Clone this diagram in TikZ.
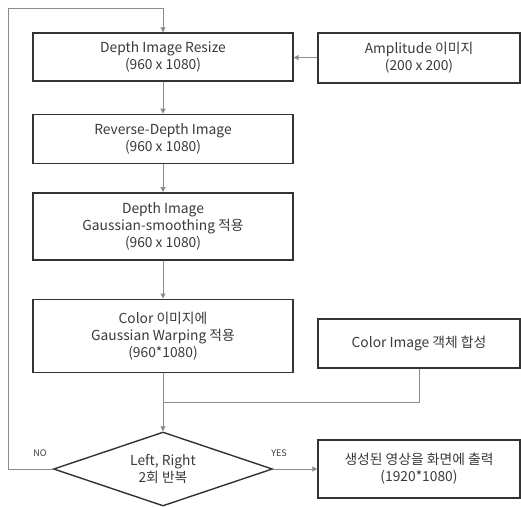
\documentclass[tikz,border=0pt]{standalone}
\usepackage{fontspec}
\setmainfont{Noto Sans CJK KR}
\usetikzlibrary{shapes.geometric, arrows.meta, positioning}
\definecolor{boxstr}{HTML}{333333}
\definecolor{linestr}{HTML}{8C8C8C}
\definecolor{txt}{HTML}{3A3A3A}
\tikzset{
  procbox/.style ={rectangle, draw=boxstr, line width=1.4pt, fill=white,
                   minimum width=260pt, align=center, text=txt,
                   font=\fontsize{13.8}{17}\selectfont, inner sep=2pt},
  sidebox/.style ={procbox, minimum width=202pt},
  decide/.style  ={diamond, draw=boxstr, line width=1.4pt, fill=white, aspect=2.96,
                   minimum width=219pt, minimum height=74pt, inner sep=0pt,
                   align=center, text=txt, font=\fontsize{13.8}{17}\selectfont},
  flow/.style    ={-{Triangle[length=5pt, width=5pt]}, draw=linestr, line width=0.8pt},
  tag/.style     ={text=txt, font=\fontsize{9}{10}\selectfont},
}
\begin{document}
\begin{tikzpicture}[x=1pt, y=-1pt]
    \useasboundingbox (0,0) rectangle (521,506);
    \node[procbox, minimum height=48pt] (resize) at (163,57) {Depth Image Resize\\(960 x 1080)};
    \node[procbox, minimum height=49pt, below=32pt of resize] (reverse) {Reverse-Depth Image\\(960 x 1080)};
    \node[procbox, minimum height=67pt, below=28pt of reverse] (smooth) {Depth Image\\Gaussian-smoothing 적용\\(960 x 1080)};
    \node[procbox, minimum height=73pt, below=38pt of smooth] (warp) {Color 이미지에\\Gaussian Warping 적용\\(960*1080)};
    \node[sidebox, minimum height=50pt] (amp) at (419,58) {Amplitude 이미지\\(200 x 200)};
    \node[sidebox, minimum height=49pt] (merge) at (419,343.5) {Color Image 객체 합성};
    \node[decide] (loop) at (163,469) {Left, Right\\2회 반복};
    \node[sidebox, minimum height=58pt] (out) at (419,469) {생성된 영상을 화면에 출력\\(1920*1080)};
    \coordinate (join) at (163,402);
    \coordinate (nocorner) at (8,8);

    \draw[flow] (amp) -- (resize);
    \draw[flow] (resize) -- (reverse);
    \draw[flow] (reverse) -- (smooth);
    \draw[flow] (smooth) -- (warp);
    \draw[draw=linestr, line width=0.8pt] (merge.south) |- (join);
    \draw[flow] (warp) -- (loop);
    \draw[flow] (loop.west) -| (nocorner) -| (resize.north);
    \draw[flow] (loop) -- (out);
    \node[tag] (no) at (40,453) {NO};
    \node[tag] (yes) at (279,453) {YES};
  \end{tikzpicture}
\end{document}
